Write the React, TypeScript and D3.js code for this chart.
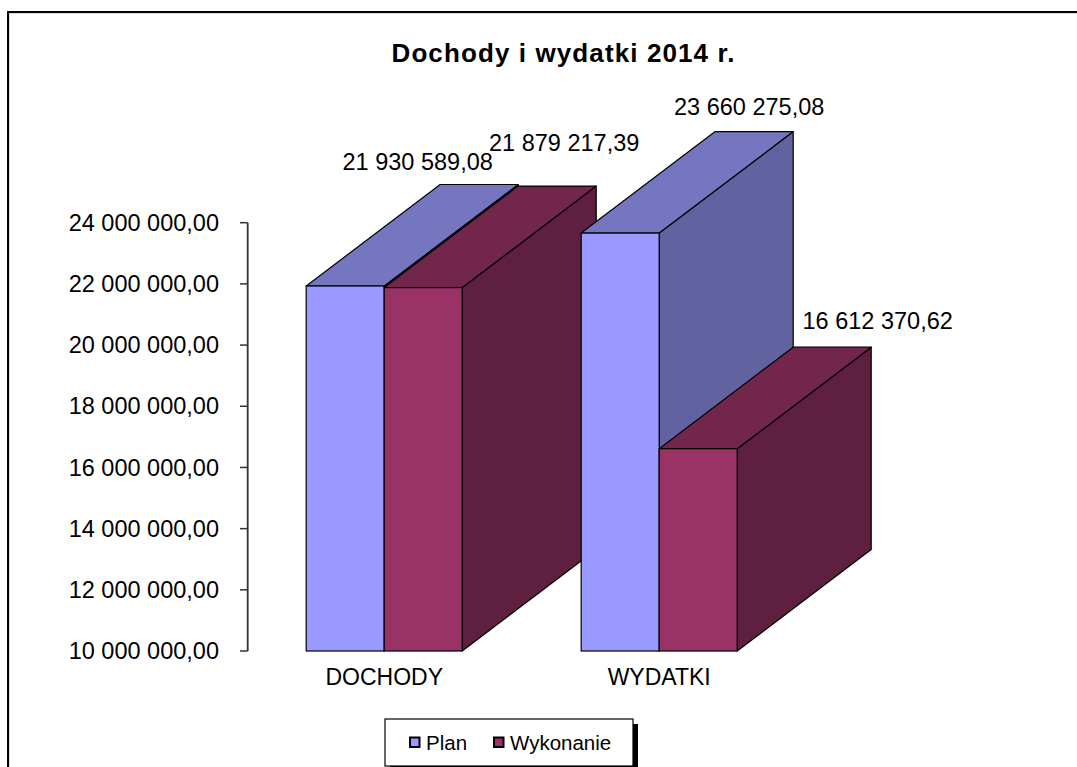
import React from "react";
import * as d3 from "d3";

const categories = ["DOCHODY", "WYDATKI"];
const seriesNames = ["Plan", "Wykonanie"];
const planValues = [21930589.08, 23660275.08];
const wykonanieValues = [21879217.39, 16612370.62];
const yTicks = [10000000, 12000000, 14000000, 16000000, 18000000, 20000000, 22000000, 24000000];

// layout (not data)
const labelNudges = [
  [[-61.5, -14.6], [7, -35]],
  [[-5, -16.7], [45.5, -18.3]],
];
const colors = {
  Plan: { front: "#9999FF", top: "#7575C0", side: "#6262A0" },
  Wykonanie: { front: "#993366", top: "#73264C", side: "#5F1F3F" },
};
const FONT = "'Liberation Sans', Arial, sans-serif";
const DX = 134;
const DY = -101.5;

const pl = d3.formatLocale({ decimal: ",", thousands: "\u00a0", grouping: [3], currency: ["", ""] });
const fmt = pl.format(",.2f");

export default function App() {
  const W = 1077;
  const H = 767;
  const y = d3.scaleLinear().domain([10000000, 24000000]).range([651, 222.7]);
  const x0 = d3.scaleBand().domain(categories).range([247.7, 797.7]).padding(0);
  const x1 = d3.scaleBand().domain(seriesNames).range([58.5, 214.5]).padding(0);
  const valuesBySeries = [planValues, wykonanieValues];
  const base = y(10000000);

  const shapes: any[] = [];
  const labels: any[] = [];
  categories.forEach((cat, ci) => {
    seriesNames.forEach((s, si) => {
      const v = valuesBySeries[si][ci];
      const xl = (x0(cat) as number) + (x1(s) as number);
      const xr = xl + x1.bandwidth();
      const yt = y(v);
      const c = (colors as any)[s];
      const side = [[xr, base], [xr + DX, base + DY], [xr + DX, yt + DY], [xr, yt]];
      const top = [[xl, yt], [xl + DX, yt + DY], [xr + DX, yt + DY], [xr, yt]];
      const pts = (a: number[][]) => a.map((p) => p.join(",")).join(" ");
      const nud = labelNudges[ci][si];
      shapes.push(
        <g key={cat + s}>
          <polygon points={pts(side)} fill={c.side} stroke="#000" strokeWidth={1.2} strokeLinejoin="round" />
          <polygon points={pts(top)} fill={c.top} stroke="#000" strokeWidth={1.2} strokeLinejoin="round" />
          <rect x={xl} y={yt} width={xr - xl} height={base - yt} fill={c.front} stroke="#000" strokeWidth={1.2} />
        </g>
      );
      labels.push(
        <text
          key={cat + s + "lbl"}
          x={(xl + xr) / 2 + DX + nud[0]}
          y={yt + DY + nud[1]}
          textAnchor="middle"
          fontFamily={FONT}
          fontSize={23.5}
          fill="#000"
        >
          {fmt(v)}
        </text>
      );
    });
  });

  return (
    <svg width={W} height={H} style={{ position: "absolute", left: 0, top: 0, background: "#fff" }}>
      <rect x={0} y={0} width={W} height={H} fill="#fff" />
      <rect x={9} y={13} width={W + 20} height={H + 20} fill="none" stroke="#bdbdbd" strokeWidth={1} />
      <rect x={8} y={12} width={W + 20} height={H + 20} fill="none" stroke="#000" strokeWidth={2} />

      <text x={563} y={61.5} textAnchor="middle" fontFamily={FONT} fontWeight="bold" fontSize={26} textLength={343} lengthAdjust="spacing">
        Dochody i wydatki  2014 r.
      </text>

      {/* y axis */}
      <line x1={247.7} x2={247.7} y1={y(24000000)} y2={y(10000000)} stroke="#333" strokeWidth={1.8} />
      {yTicks.map((t) => (
        <g key={t}>
          <line x1={240} x2={247.7} y1={y(t)} y2={y(t)} stroke="#333" strokeWidth={1.5} />
          <text x={219} y={y(t)} dy="0.35em" textAnchor="end" fontFamily={FONT} fontSize={23.5} fill="#000">
            {fmt(t)}
          </text>
        </g>
      ))}

      {shapes}
      {labels}

      {categories.map((cat) => (
        <text
          key={cat}
          x={(x0(cat) as number) + (x1("Plan") as number) + x1.bandwidth()}
          y={685}
          textAnchor="middle"
          fontFamily={FONT}
          fontSize={23}
          fill="#000"
        >
          {cat}
        </text>
      ))}

      {/* legend */}
      <rect x={390} y={724} width={248} height={47} fill="#000" />
      <rect x={385} y={719} width={248} height={47} fill="#fff" stroke="#000" strokeWidth={1.2} />
      {seriesNames.map((s, i) => {
        const lx = [410, 494][i];
        return (
          <g key={s}>
            <rect x={lx} y={737.5} width={9.5} height={9.5} fill={(colors as any)[s].front} stroke="#000" strokeWidth={2} />
            <text x={lx + 16} y={749.5} fontFamily={FONT} fontSize={20.5} fill="#000">
              {s}
            </text>
          </g>
        );
      })}
    </svg>
  );
}
